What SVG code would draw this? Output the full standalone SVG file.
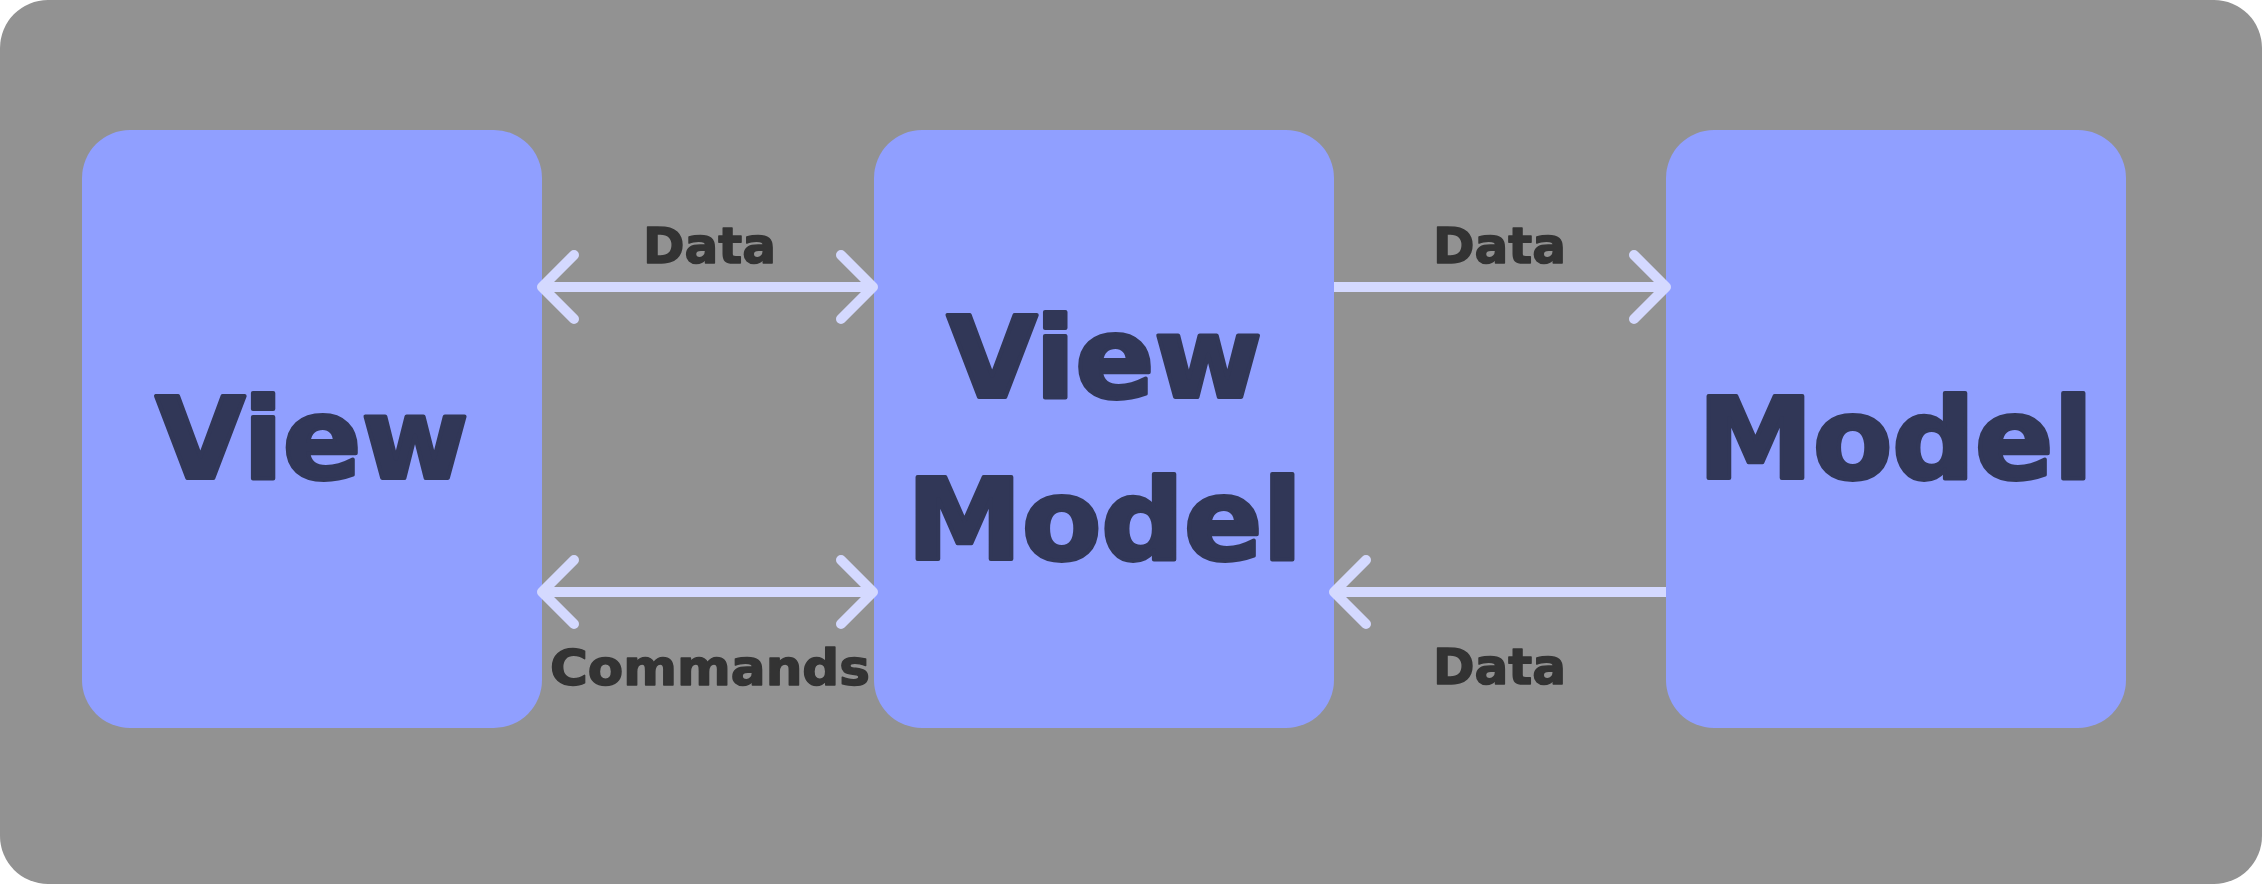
<svg xmlns="http://www.w3.org/2000/svg" width="2262" height="884" viewBox="0 0 2262 884">
<style>
.box{fill:#909FFF}
.title{font-family:"DejaVu Sans",sans-serif;font-weight:bold;font-size:112px;fill:#313757;stroke:#313757;stroke-width:4;stroke-linejoin:round;text-anchor:middle}
.lbl{font-family:"DejaVu Sans",sans-serif;font-weight:bold;font-size:49px;fill:#333333;stroke:#333333;stroke-width:1.5;stroke-linejoin:round;text-anchor:middle}
.conn{fill:none;stroke:#D4D9FF;stroke-width:10;stroke-linecap:round;stroke-linejoin:round}
.flat{stroke-linecap:butt}
</style>
<rect x="0" y="0" width="2262" height="884" rx="48" ry="48" fill="#929292"/>
<g id="view">
<rect class="box" x="82" y="130" width="460" height="598" rx="48" ry="48"/>
<text class="title" x="312" y="478" textLength="313" lengthAdjust="spacingAndGlyphs">View</text>
</g>
<g id="viewmodel">
<rect class="box" x="874" y="130" width="460" height="598" rx="48" ry="48"/>
<text class="title" x="1104.5" y="397" textLength="315" lengthAdjust="spacingAndGlyphs">View</text>
<text class="title" x="1104.5" y="559" textLength="395" lengthAdjust="spacingAndGlyphs">Model</text>
</g>
<g id="model">
<rect class="box" x="1666" y="130" width="460" height="598" rx="48" ry="48"/>
<text class="title" x="1895.5" y="478" textLength="395" lengthAdjust="spacingAndGlyphs">Model</text>
</g>
<g id="connectors">
<path class="conn" d="M542 287 H873 M574 255 L542 287 L574 319 M841 255 L873 287 L841 319"/>
<path class="conn" d="M542 592 H873 M574 560 L542 592 L574 624 M841 560 L873 592 L841 624"/>
<path class="conn flat" d="M1334 287 H1666"/>
<path class="conn" d="M1634 255 L1666 287 L1634 319"/>
<path class="conn flat" d="M1334 592 H1666"/>
<path class="conn" d="M1366 560 L1334 592 L1366 624"/>
<text class="lbl" x="709.5" y="263" textLength="133" lengthAdjust="spacingAndGlyphs">Data</text>
<text class="lbl" x="710" y="685" textLength="320" lengthAdjust="spacingAndGlyphs">Commands</text>
<text class="lbl" x="1499.5" y="263" textLength="133" lengthAdjust="spacingAndGlyphs">Data</text>
<text class="lbl" x="1499.5" y="684" textLength="133" lengthAdjust="spacingAndGlyphs">Data</text>
</g>
</svg>
